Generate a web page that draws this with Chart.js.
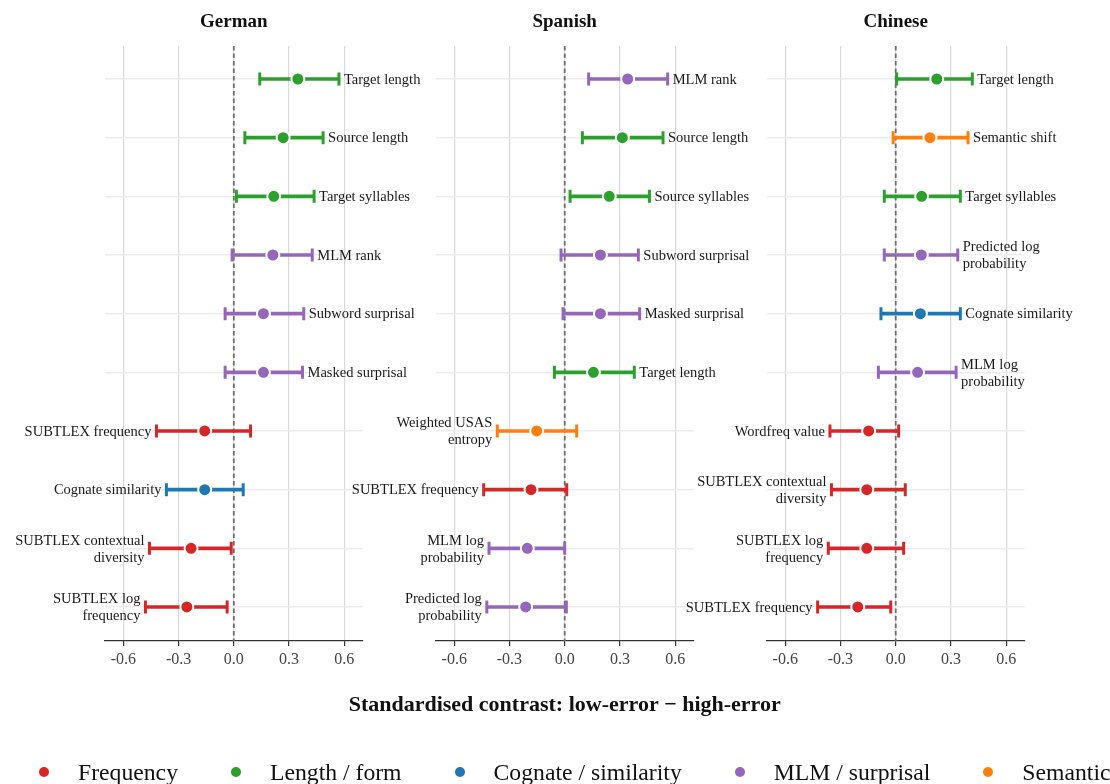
<!DOCTYPE html>
<html>
<head>
<meta charset="utf-8">
<script src="https://cdn.jsdelivr.net/npm/chart.js@4/dist/chart.umd.min.js"></script>
<style>
  body { margin: 0; background: #fff; }
  #wrap { position: relative; width: 1110px; height: 784px; overflow: hidden; }
  #wrap canvas { position: absolute; left: 0; top: 0; }
  #legend {
    position: absolute; left: 0; top: 756px; width: 1110px; height: 32px;
    display: flex; align-items: center; white-space: nowrap; overflow: hidden;
    font-family: 'Liberation Serif', 'Times New Roman', serif; font-size: 23.7px; color: #111;
  }
  .item { display: flex; align-items: center; margin-right: 53px; flex-shrink: 0; }
  .item:first-child { margin-left: 39px; }
  .dot { width: 10px; height: 10px; border-radius: 50%; margin-right: 29px; }
</style>
</head>
<body>
<div id="wrap">
  <canvas id="german" width="1110" height="784"></canvas>
  <canvas id="spanish" width="1110" height="784"></canvas>
  <canvas id="chinese" width="1110" height="784"></canvas>
  <div id="legend"></div>
</div>
<script>
// tick values for the shared x axis
const xTicks = [-0.6, -0.3, 0, 0.3, 0.6];
const xTitle = 'Standardised contrast: low-error \u2212 high-error';

const groupNames = ['Frequency', 'Length / form', 'Cognate / similarity', 'MLM / surprisal', 'Semantic'];
const groupKeys = ['freq', 'length', 'cognate', 'mlm', 'semantic'];
const groupColors = ['#d62728', '#2ca02c', '#1f77b4', '#9467bd', '#ff7f0e'];

// German
const germanLabels = ['Target length', 'Source length', 'Target syllables', 'MLM rank', 'Subword surprisal',
  'Masked surprisal', 'SUBTLEX frequency', 'Cognate similarity', ['SUBTLEX contextual', 'diversity'], ['SUBTLEX log', 'frequency']];
const germanGroups = ['length', 'length', 'length', 'mlm', 'mlm', 'mlm', 'freq', 'cognate', 'freq', 'freq'];
const germanEst = [0.348, 0.268, 0.217, 0.212, 0.161, 0.161, -0.158, -0.158, -0.232, -0.255];
const germanLow = [0.141, 0.060, 0.014, -0.009, -0.047, -0.047, -0.420, -0.366, -0.458, -0.480];
const germanHigh = [0.571, 0.485, 0.436, 0.426, 0.380, 0.373, 0.091, 0.051, -0.014, -0.036];

// Spanish
const spanishLabels = ['MLM rank', 'Source length', 'Source syllables', 'Subword surprisal', 'Masked surprisal',
  'Target length', ['Weighted USAS', 'entropy'], 'SUBTLEX frequency', ['MLM log', 'probability'], ['Predicted log', 'probability']];
const spanishGroups = ['mlm', 'length', 'length', 'mlm', 'mlm', 'length', 'semantic', 'freq', 'mlm', 'mlm'];
const spanishEst = [0.342, 0.313, 0.242, 0.194, 0.194, 0.156, -0.152, -0.183, -0.203, -0.212];
const spanishLow = [0.130, 0.096, 0.029, -0.020, -0.009, -0.056, -0.366, -0.440, -0.411, -0.423];
const spanishHigh = [0.559, 0.534, 0.460, 0.400, 0.407, 0.378, 0.065, 0.011, 0.000, 0.009];

// Chinese
const chineseLabels = ['Target length', 'Semantic shift', 'Target syllables', ['Predicted log', 'probability'],
  'Cognate similarity', ['MLM log', 'probability'], 'Wordfreq value', ['SUBTLEX contextual', 'diversity'], ['SUBTLEX log', 'frequency'], 'SUBTLEX frequency'];
const chineseGroups = ['length', 'semantic', 'length', 'mlm', 'cognate', 'mlm', 'freq', 'freq', 'freq', 'freq'];
const chineseEst = [0.223, 0.186, 0.141, 0.139, 0.134, 0.119, -0.147, -0.157, -0.157, -0.206];
const chineseLow = [0.005, -0.014, -0.062, -0.062, -0.080, -0.094, -0.357, -0.349, -0.366, -0.424];
const chineseHigh = [0.416, 0.393, 0.351, 0.337, 0.351, 0.328, 0.016, 0.052, 0.043, -0.027];

const yMin = 0.4375;
const yMax = 10.58;

Chart.defaults.font.family = "'Liberation Serif', 'Times New Roman', serif";

function colorOf(g) {
  return groupColors[groupKeys.indexOf(g)];
}

function buildChart(id, title, labels, groups, est, low, high, pad, axisTitle) {
  const colors = groups.map(colorOf);
  const rows = labels.map((_, i) => i + 1);

  const labelPlugin = {
    id: 'rowLabels',
    afterDatasetsDraw(chart) {
      const ctx = chart.ctx;
      const xs = chart.scales.x;
      const ys = chart.scales.y;
      ctx.save();
      ctx.font = "14.5px 'Liberation Serif', 'Times New Roman', serif";
      ctx.fillStyle = '#1a1a1a';
      ctx.textBaseline = 'middle';
      labels.forEach((lab, i) => {
        const lines = Array.isArray(lab) ? lab : [lab];
        const right = est[i] >= 0;
        const x = right ? xs.getPixelForValue(high[i]) + 5 : xs.getPixelForValue(low[i]) - 5;
        ctx.textAlign = right ? 'left' : 'right';
        const y0 = ys.getPixelForValue(rows[i]) + 1 - (lines.length - 1) * 17 / 2;
        lines.forEach((t, k) => ctx.fillText(t, x, y0 + k * 17));
      });
      // shared axis title, drawn without the scale's width limit
      if (axisTitle) {
        ctx.font = "bold 22px 'Liberation Serif', 'Times New Roman', serif";
        ctx.fillStyle = '#111';
        ctx.textAlign = 'center';
        ctx.fillText(axisTitle, (xs.left + xs.right) / 2, xs.bottom + 32);
      }
      ctx.restore();
    }
  };

  return new Chart(document.getElementById(id), {
    type: 'scatter',
    data: {
      datasets: [
        {
          type: 'scatter',
          data: est.map((v, i) => ({ x: v, y: rows[i] })),
          pointRadius: 6.5,
          pointHoverRadius: 6.5,
          pointBackgroundColor: colors,
          pointBorderColor: '#fff',
          pointBorderWidth: 2
        },
        {
          type: 'scatter',
          data: low.map((v, i) => ({ x: v, y: rows[i] })).concat(high.map((v, i) => ({ x: v, y: rows[i] }))),
          pointStyle: 'line',
          pointRotation: 90,
          pointRadius: 6.5,
          pointHoverRadius: 6.5,
          pointBorderColor: colors.concat(colors),
          pointBorderWidth: 3
        },
        {
          type: 'bar',
          indexAxis: 'y',
          data: low.map((v, i) => ({ x: [v, high[i]], y: rows[i] })),
          backgroundColor: colors,
          barThickness: 3,
          borderWidth: 0
        },
        {
          type: 'line',
          data: [{ x: 0, y: yMin }, { x: 0, y: yMax }],
          borderColor: '#6e6e6e',
          borderWidth: 1.8,
          borderDash: [4.5, 3],
          pointRadius: 0
        }
      ]
    },
    options: {
      responsive: false,
      animation: false,
      events: [],
      layout: { padding: { left: pad[0], right: pad[1], top: 0, bottom: 110.8 } },
      plugins: {
        legend: { display: false },
        tooltip: { enabled: false },
        title: {
          display: true,
          text: title,
          color: '#111',
          font: { size: 19, weight: 'bold' },
          padding: { top: 10.6, bottom: 12.6 }
        }
      },
      scales: {
        x: {
          type: 'linear',
          min: -0.7,
          max: 0.7,
          offset: false,
          afterBuildTicks: s => { s.ticks = xTicks.map(v => ({ value: v })); },
          ticks: { color: '#444', font: { size: 16 }, padding: 4, callback: v => v.toFixed(1) },
          grid: { color: '#d9d9d9', lineWidth: 1.2, tickLength: 5, tickColor: '#333', tickWidth: 1.2, offset: false },
          border: { color: '#333', width: 1.3 }
        },
        y: {
          type: 'linear',
          reverse: true,
          min: yMin,
          max: yMax,
          offset: false,
          afterBuildTicks: s => { s.ticks = rows.map(v => ({ value: v })); },
          ticks: { display: false },
          grid: { color: '#ededed', lineWidth: 1.5, drawTicks: false, offset: false },
          border: { display: false }
        }
      }
    },
    plugins: [labelPlugin]
  });
}

buildChart('german', 'German', germanLabels, germanGroups, germanEst, germanLow, germanHigh, [104.9, 747.3]);
buildChart('spanish', 'Spanish', spanishLabels, spanishGroups, spanishEst, spanishLow, spanishHigh, [435.8, 416.4], xTitle);
buildChart('chinese', 'Chinese', chineseLabels, chineseGroups, chineseEst, chineseLow, chineseHigh, [766.8, 85.4]);

const legendDiv = document.getElementById('legend');
groupNames.forEach((name, i) => {
  const item = document.createElement('div');
  item.className = 'item';
  const dot = document.createElement('span');
  dot.className = 'dot';
  dot.style.background = groupColors[i];
  const txt = document.createElement('span');
  txt.innerText = name;
  item.appendChild(dot);
  item.appendChild(txt);
  legendDiv.appendChild(item);
});
</script>
</body>
</html>
